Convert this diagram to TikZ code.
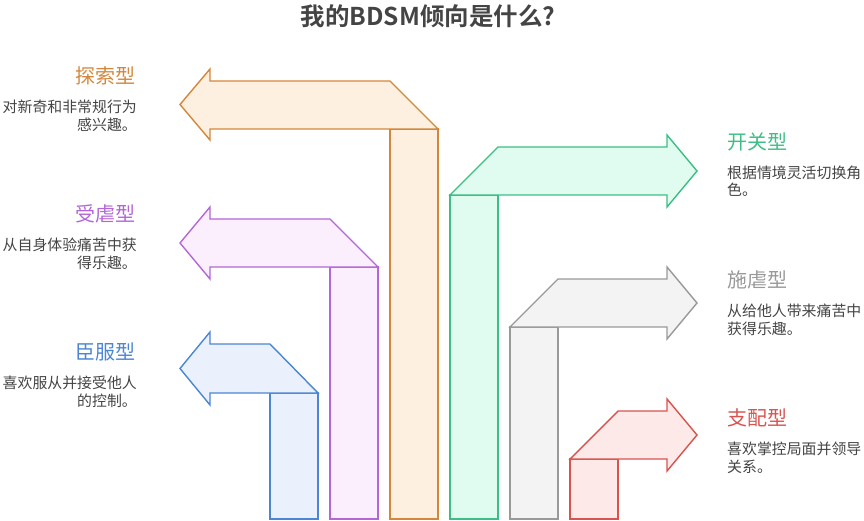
\documentclass[tikz,border=0pt]{standalone}
\usepackage{fontspec}
\setmainfont{Noto Sans CJK SC}
\newfontfamily\cjkbold{Noto Sans CJK SC Bold}
\definecolor{cOr}{HTML}{D4873B}
\definecolor{fOr}{HTML}{FEF0E1}
\definecolor{cPu}{HTML}{B366D6}
\definecolor{fPu}{HTML}{FBEEFD}
\definecolor{cBl}{HTML}{4B86D4}
\definecolor{fBl}{HTML}{EAF1FC}
\definecolor{cGr}{HTML}{3DBE85}
\definecolor{fGr}{HTML}{E0FBEF}
\definecolor{cGy}{HTML}{999999}
\definecolor{fGy}{HTML}{F3F3F3}
\definecolor{cRd}{HTML}{D9534F}
\definecolor{fRd}{HTML}{FDE9E8}
\definecolor{txt}{HTML}{444444}
\tikzset{
  shp/.style={line width=1.4pt, line join=miter},
  ttl/.style={font=\fontsize{20}{23}\selectfont, inner sep=0pt},
  dsc/.style={font=\fontsize{14.9}{17.5}\selectfont, text=txt, inner sep=0pt},
}
\begin{document}
\begin{tikzpicture}[x=1pt,y=-1pt]
\useasboundingbox (0,0) rectangle (864,521);
\node[font=\cjkbold\fontsize{24.5}{27}\selectfont, text=txt, inner sep=0pt] (title) at (428,16) {我的BDSM倾向是什么?};
% orange
\draw[shp, draw=cOr, fill=fOr] (390,129) rectangle (438,519);
\draw[shp, draw=cOr, fill=fOr] (438,129) -- (390,81) -- (210,81) -- (210,69) -- (180,104.5) -- (210,140) -- (210,129) -- cycle;
% purple
\draw[shp, draw=cPu, fill=fPu] (330,267) rectangle (378,519);
\draw[shp, draw=cPu, fill=fPu] (378,267) -- (330,219) -- (210,219) -- (210,207) -- (180,243) -- (210,279) -- (210,267) -- cycle;
% blue
\draw[shp, draw=cBl, fill=fBl] (270,393) rectangle (318,519);
\draw[shp, draw=cBl, fill=fBl] (318,393) -- (270,344) -- (210,344) -- (210,332) -- (180,368.5) -- (210,405) -- (210,393) -- cycle;
% green
\draw[shp, draw=cGr, fill=fGr] (450,195) rectangle (498,519);
\draw[shp, draw=cGr, fill=fGr] (450,195) -- (498,147) -- (667,147) -- (667,135) -- (697,171) -- (667,207) -- (667,195) -- cycle;
% gray
\draw[shp, draw=cGy, fill=fGy] (510,327) rectangle (558,519);
\draw[shp, draw=cGy, fill=fGy] (510,327) -- (558,279) -- (667,279) -- (667,267) -- (697,303) -- (667,339) -- (667,327) -- cycle;
% red
\draw[shp, draw=cRd, fill=fRd] (570,459) rectangle (618,519);
\draw[shp, draw=cRd, fill=fRd] (570,459) -- (618,411) -- (667,411) -- (667,399) -- (697,435) -- (667,471) -- (667,459) -- cycle;
% left labels
\node[ttl, text=cOr, anchor=east] (t1) at (136,76) {探索型};
\node[dsc, anchor=east, align=right] (d1) at (137,116) {对新奇和非常规行为\\感兴趣。};
\node[ttl, text=cPu, anchor=east] (t2) at (136,214) {受虐型};
\node[dsc, anchor=east, align=right] (d2) at (137,254) {从自身体验痛苦中获\\得乐趣。};
\node[ttl, text=cBl, anchor=east] (t3) at (136,352) {臣服型};
\node[dsc, anchor=east, align=right] (d3) at (137,392) {喜欢服从并接受他人\\的控制。};
% right labels
\node[ttl, text=cGr, anchor=west] (t4) at (727,142) {开关型};
\node[dsc, anchor=west, align=left] (d4) at (727,181) {根据情境灵活切换角\\色。};
\node[ttl, text=cGy, anchor=west] (t5) at (727,280) {施虐型};
\node[dsc, anchor=west, align=left] (d5) at (727,320) {从给他人带来痛苦中\\获得乐趣。};
\node[ttl, text=cRd, anchor=west] (t6) at (727,418) {支配型};
\node[dsc, anchor=west, align=left] (d6) at (727,458) {喜欢掌控局面并领导\\关系。};
\end{tikzpicture}
\end{document}
